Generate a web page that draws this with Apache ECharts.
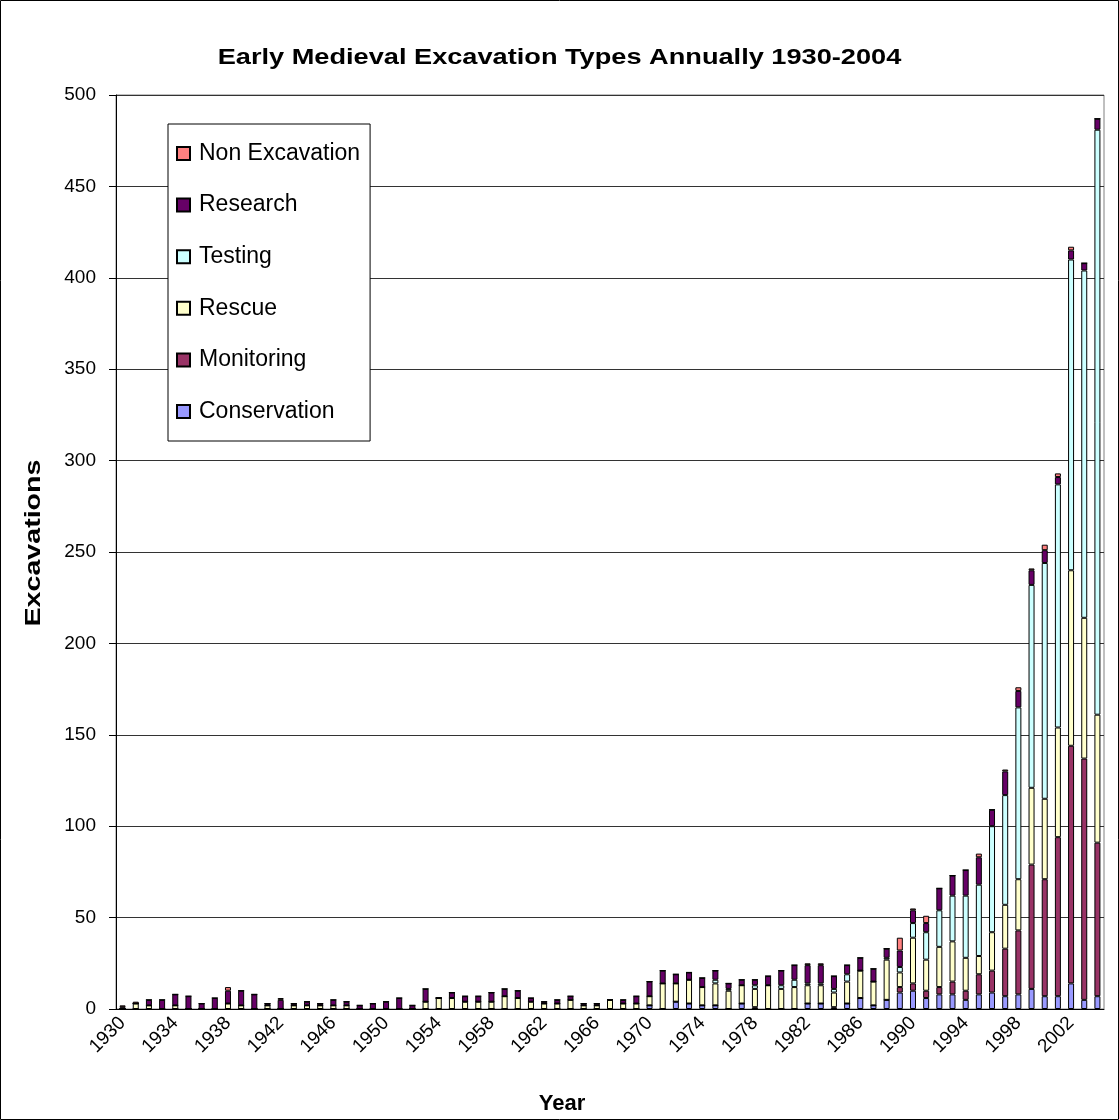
<!DOCTYPE html>
<html>
<head>
<meta charset="utf-8">
<title>Early Medieval Excavation Types</title>
<script src="https://cdn.jsdelivr.net/npm/echarts@6/dist/echarts.min.js"></script>
<style>
  html, body { margin: 0; padding: 0; background: #fff; }
  #chart { width: 1119px; height: 1120px; }
</style>
</head>
<body>
<div id="chart"></div>
<script>
// years 1930 - 2004
var years = []
for (var y = 1930; y <= 2004; y++) years.push(String(y))

// values, one per year
var conservation = [
  0, 0, 0, 0, 0, 0, 0, 0, 0, 0,
  0, 0, 0, 0, 0, 0, 0, 0, 0, 0,
  0, 0, 0, 0, 0, 0, 0, 0, 0, 0,
  0, 0, 0, 0, 0, 0, 0, 0, 0, 0,
  2, 0, 4, 3, 2, 2, 0, 3, 0, 0,
  0, 0, 3, 3, 0, 3, 6, 2, 5, 9,
  10, 6, 8, 8, 5, 8, 9, 7, 8, 11,
  7, 7, 14, 5, 7
]
var monitoring = [
  0, 0, 0, 0, 0, 0, 0, 0, 0, 0,
  0, 0, 0, 0, 0, 0, 0, 0, 0, 0,
  0, 0, 0, 0, 0, 0, 0, 0, 0, 0,
  0, 0, 0, 0, 0, 0, 0, 0, 0, 0,
  0, 0, 0, 0, 0, 0, 0, 0, 1, 0,
  0, 0, 0, 0, 1, 0, 0, 0, 0, 3,
  4, 4, 4, 7, 5, 11, 12, 26, 35, 68,
  64, 87, 130, 132, 84
]
var rescue = [
  0, 3, 2, 0, 2, 0, 0, 0, 3, 2,
  0, 2, 0, 2, 2, 2, 2, 2, 0, 0,
  0, 0, 0, 4, 6, 6, 4, 4, 4, 7,
  6, 4, 3, 3, 5, 2, 2, 5, 3, 3,
  5, 14, 10, 13, 10, 12, 10, 10, 10, 13,
  11, 12, 10, 10, 8, 12, 15, 13, 22, 8,
  25, 17, 22, 22, 18, 10, 21, 24, 28, 42,
  44, 60, 96, 77, 70
]
var testing = [
  0, 0, 0, 0, 0, 0, 0, 0, 0, 0,
  0, 0, 0, 0, 0, 0, 0, 0, 0, 0,
  0, 0, 0, 0, 0, 0, 0, 0, 0, 0,
  0, 0, 0, 0, 0, 0, 0, 0, 0, 0,
  0, 0, 0, 0, 0, 2, 1, 0, 2, 0,
  2, 4, 1, 1, 2, 4, 0, 0, 1, 3,
  8, 15, 20, 25, 34, 39, 58, 60, 94, 111,
  129, 133, 170, 190, 320
]
var research = [
  1, 0, 3, 5, 6, 7, 3, 6, 7, 8,
  8, 1, 5, 1, 2, 1, 3, 2, 2, 3,
  4, 6, 2, 7, 0, 3, 3, 3, 5, 4,
  4, 2, 1, 2, 2, 1, 1, 0, 2, 4,
  8, 7, 5, 4, 5, 5, 3, 3, 3, 5,
  8, 8, 10, 10, 7, 5, 7, 7, 5, 9,
  7, 5, 12, 11, 14, 15, 9, 13, 9, 8,
  7, 4, 5, 4, 6
]
var nonExcavation = [
  1, 1, 0, 0, 0, 0, 0, 0, 2, 0,
  0, 0, 1, 0, 0, 0, 0, 0, 0, 0,
  0, 0, 0, 0, 0, 0, 0, 0, 0, 0,
  0, 0, 0, 0, 0, 0, 0, 0, 0, 0,
  0, 0, 0, 0, 0, 0, 0, 0, 0, 0,
  0, 0, 1, 1, 0, 0, 0, 0, 0, 7,
  1, 4, 0, 0, 0, 2, 0, 1, 2, 1,
  3, 2, 2, 0, 0
]

var yTicks = [0, 50, 100, 150, 200, 250, 300, 350, 400, 450, 500]

var seriesList = [
  { name: 'Conservation', data: conservation, color: '#9999FF' },
  { name: 'Monitoring', data: monitoring, color: '#993366' },
  { name: 'Rescue', data: rescue, color: '#FFFFCC' },
  { name: 'Testing', data: testing, color: '#CCFFFF' },
  { name: 'Research', data: research, color: '#660066' },
  { name: 'Non Excavation', data: nonExcavation, color: '#FF8080' }
]

var font = 'Liberation Sans, Arial, sans-serif'
var chart = echarts.init(document.getElementById('chart'))

chart.setOption({
  animation: false,
  backgroundColor: '#fff',
  textStyle: { fontFamily: font, color: '#000' },
  graphic: [
    // outer frame of the picture
    {
      type: 'rect',
      shape: { x: 0.5, y: 0.5, width: 1118, height: 1119 },
      style: { fill: null, stroke: '#000', lineWidth: 1 },
      silent: true
    },
    // title, the original font runs wider than Arial
    {
      type: 'text',
      x: 559.5,
      y: 58,
      scaleX: 1.235,
      style: {
        text: 'Early Medieval Excavation Types Annually 1930-2004',
        fontFamily: font,
        fontSize: 22,
        fontWeight: 'bold',
        fill: '#000',
        align: 'center',
        verticalAlign: 'middle',
        textAlign: 'center',
        textVerticalAlign: 'middle'
      }
    },
    // y axis title
    {
      type: 'text',
      x: 33.5,
      y: 543,
      rotation: Math.PI / 2,
      scaleX: 1.3,
      style: {
        text: 'Excavations',
        fontFamily: font,
        fontSize: 22,
        fontWeight: 'bold',
        fill: '#000',
        align: 'center',
        verticalAlign: 'middle',
        textAlign: 'center',
        textVerticalAlign: 'middle'
      }
    }
  ],
  grid: {
    left: 116,
    right: 15,
    top: 95,
    bottom: 110,
    show: true,
    borderColor: '#808080',
    borderWidth: 1
  },
  legend: {
    orient: 'vertical',
    left: 168,
    top: 124,
    data: ['Non Excavation', 'Research', 'Testing', 'Rescue', 'Monitoring', 'Conservation'],
    icon: 'rect',
    itemWidth: 13,
    itemHeight: 13,
    itemGap: 28.6,
    padding: [18, 10, 18, 8],
    backgroundColor: '#fff',
    borderColor: '#000',
    borderWidth: 1,
    textStyle: { fontFamily: font, fontSize: 23, lineHeight: 22, color: '#000', padding: [0, 0, 0, 4] }
  },
  xAxis: {
    type: 'category',
    data: years,
    name: 'Year',
    nameLocation: 'middle',
    nameGap: 84,
    nameTextStyle: { fontFamily: font, fontSize: 22, fontWeight: 'bold', color: '#000', padding: [0, 96, 0, 0] },
    axisLine: { lineStyle: { color: '#000', width: 1 } },
    axisTick: { show: false },
    axisLabel: { interval: 3, rotate: 45, margin: 11, fontSize: 19, color: '#000' }
  },
  yAxis: {
    type: 'value',
    min: 0,
    max: 500,
    interval: 50,
    axisLine: { show: true, lineStyle: { color: '#000', width: 1 } },
    axisTick: { show: true, length: 7, lineStyle: { color: '#000' } },
    axisLabel: {
      margin: 20,
      fontSize: 19,
      color: '#000',
      formatter: function (v) { return yTicks.indexOf(v) >= 0 ? String(v) : '' }
    },
    splitLine: { lineStyle: { color: '#333', width: 1 } }
  },
  series: seriesList.map(function (s) {
    return {
      name: s.name,
      type: 'bar',
      stack: 'total',
      barWidth: 6,
      data: s.data,
      itemStyle: { color: s.color, borderColor: '#000', borderWidth: 1 }
    }
  })
})
</script>
</body>
</html>
